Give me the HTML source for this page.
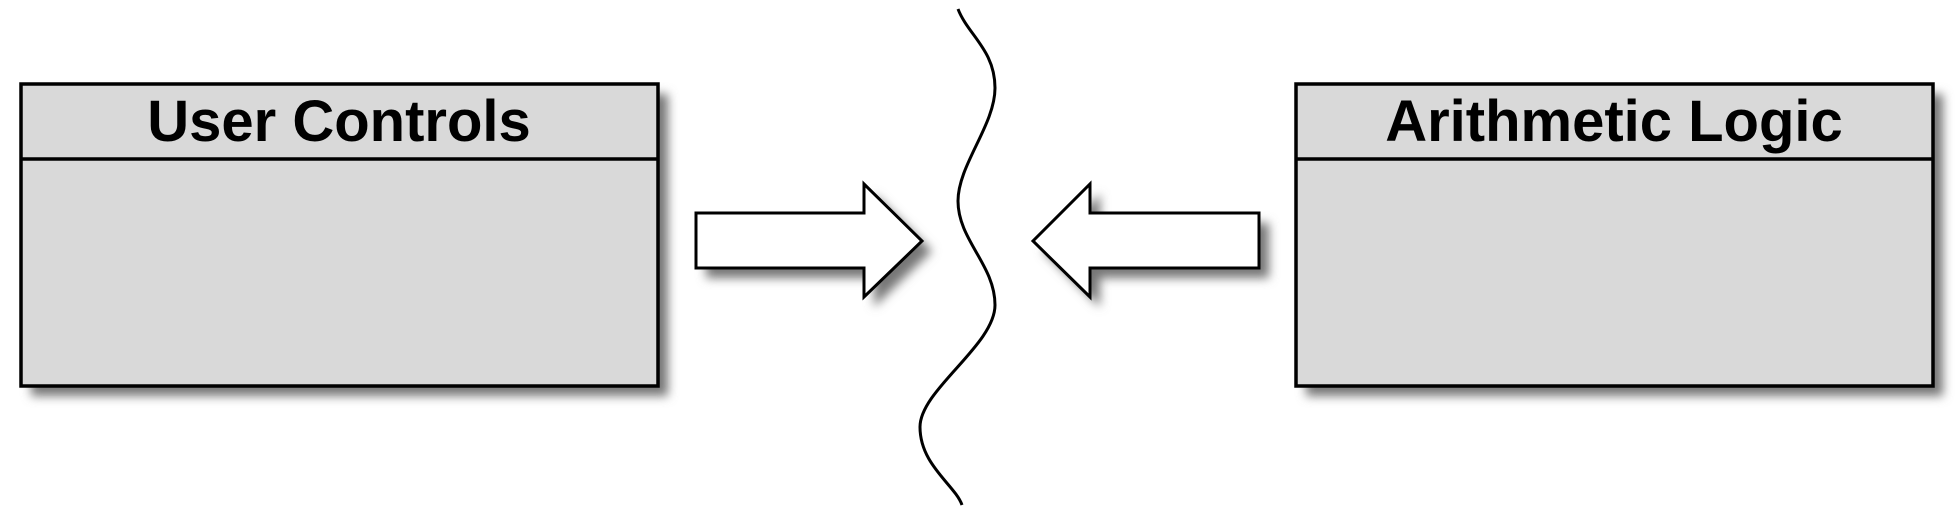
<!DOCTYPE html>
<html><head><meta charset="utf-8"><style>
html,body{margin:0;padding:0;background:#fff;width:1958px;height:509px;overflow:hidden}
svg{display:block}
text{font-family:"Liberation Sans",sans-serif;font-weight:bold;font-size:58px;text-anchor:middle}
</style></head><body>
<svg width="1958" height="509" viewBox="0 0 1958 509">
<defs><filter id="sh" x="-10%" y="-10%" width="130%" height="140%"><feGaussianBlur stdDeviation="5"/></filter></defs>
<g>
<rect x="31" y="94" width="637" height="302" fill="#777" filter="url(#sh)"/>
<rect x="21" y="84" width="637" height="302" fill="#d9d9d9" stroke="#000" stroke-width="3.5"/>
<line x1="21" y1="159" x2="658" y2="159" stroke="#000" stroke-width="3.5"/>
<text x="339" y="141">User Controls</text>
</g>
<g>
<rect x="1306" y="94" width="637" height="302" fill="#777" filter="url(#sh)"/>
<rect x="1296" y="84" width="637" height="302" fill="#d9d9d9" stroke="#000" stroke-width="3.5"/>
<line x1="1296" y1="159" x2="1933" y2="159" stroke="#000" stroke-width="3.5"/>
<text x="1614" y="141">Arithmetic Logic</text>
</g>
<g>
<polygon points="706,223 874,223 874,194 932,251 874,307 874,278 706,278" fill="#777" filter="url(#sh)"/>
<polygon points="696,213 864,213 864,184 922,241 864,297 864,268 696,268" fill="#fff" stroke="#000" stroke-width="3"/>
</g>
<g>
<polygon points="1269,223 1100,223 1100,194 1043,251 1100,307 1100,278 1269,278" fill="#777" filter="url(#sh)"/>
<polygon points="1259,213 1090,213 1090,184 1033,241 1090,297 1090,268 1259,268" fill="#fff" stroke="#000" stroke-width="3"/>
</g>
<path d="M958,9 C968,35 995,50 995,88 C995,125 958,165 958,201 C958,240 995,265 995,305 C995,345 920,390 920,427 C920,465 955,485 962,505" fill="none" stroke="#000" stroke-width="3"/>
</svg>
</body></html>
